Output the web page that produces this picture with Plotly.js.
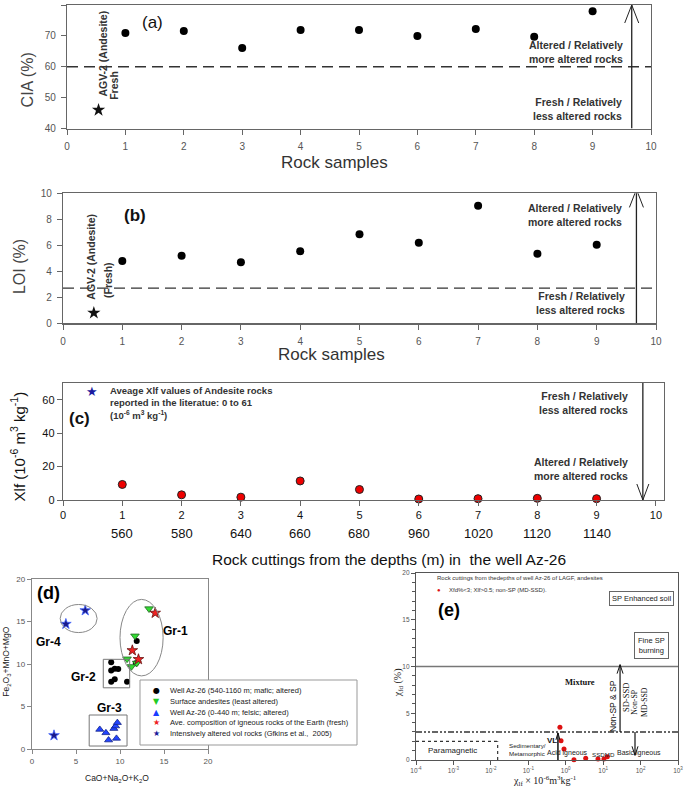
<!DOCTYPE html>
<html><head><meta charset="utf-8">
<script src="https://cdn.plot.ly/plotly-3.0.1.min.js"></script>
<style>html,body{margin:0;padding:0;background:#fff}#chart{width:685px;height:792px}</style>
</head><body><div id="chart"></div>
<script>
// ---------- data ----------
const samples = [1,2,3,4,5,6,7,8,9];
const ciaValues = [70.9,71.6,66.1,71.9,71.9,70.0,72.2,69.7,78.0];
const loiValues = [4.8,5.2,4.7,5.55,6.85,6.2,9.05,5.35,6.05];
const xlfValues = [9.3,3.1,1.7,11.4,6.3,0.6,0.8,1.0,0.8];
const depthLabels = ['560','580','640','660','680','960','1020','1120','1140'];
const agvSampleA = [0.54], agvCIA = [46];
const agvSampleB = [0.52], agvLOI = [0.8];
const ciaThreshold = 60, loiThreshold = 2.7;

// panel d
const wellDeepX = [9.0,9.0,9.4,9.8,9.4,9.0,10.8,11.9,11.8];
const wellDeepY = [10.2,9.25,9.45,9.4,8.2,7.9,7.9,12.7,10.1];
const surfX = [13.3,11.7,10.8,11.3,11.9];
const surfY = [16.5,13.3,10.6,9.7,10.1];
const wellShallowX = [7.7,8.4,8.7,9.3,9.5,9.7,9.6];
const wellShallowY = [2.3,1.9,1.05,2.4,2.7,3.1,1.25];
const earthX = [14.0,11.4,12.1];
const earthY = [16.0,11.6,10.55];
const alteredX = [6.05,3.85,2.5];
const alteredY = [16.3,14.7,1.6];
const legendD = [
  ['●','#000','Well Az-26 (540-1160 m; mafic; altered)'],
  ['▼','#22cc22','Surface andesites (least altered)'],
  ['▲','#1a3cff','Well Az-26 (0-440 m; felsic; altered)'],
  ['★','#ee2222','Ave. composition of igneous rocks of the Earth (fresh)'],
  ['★','#1a1a99','Intensively altered vol rocks (Gfkins et al.,  2005)']
];

// panel e
const chiLf = [0.70,0.75,0.90,1.66,3.42,7.28,10.5,12.9];
const chiFd = [3.5,2.06,1.18,0.02,0.18,0.1,0.1,0.35];
const eTickVals = [1e-4,1e-3,1e-2,1e-1,1e0,1e1,1e2,1e3];
const eTickText = ['10<sup>-4</sup>','10<sup>-3</sup>','10<sup>-2</sup>','10<sup>-1</sup>','10<sup>0</sup>','10<sup>1</sup>','10<sup>2</sup>','10<sup>3</sup>'];

// ---------- helpers ----------
const W = 685, H = 792;
const px = x => x / W, py = y => 1 - y / H;
const SANS = 'Liberation Sans, Arial, sans-serif';
const SERIF = 'Liberation Serif, Times New Roman, serif';

function ann(text, x, y, font, o) {
  return Object.assign({text, x: px(x), y: py(y), xref: 'paper', yref: 'paper', showarrow: false,
    xanchor: 'center', yanchor: 'middle', font: Object.assign({family: SANS, size: 10, color: '#222'}, font || {})}, o || {});
}
function axisBase(o) {
  return Object.assign({showline: true, mirror: true, linecolor: '#666', linewidth: 1.2, ticks: 'outside',
    ticklen: 5, tickcolor: '#666', showgrid: false, zeroline: false, fixedrange: true,
    tickfont: {family: SANS, size: 10, color: '#555'}}, o);
}
function head(xref, yref, x, y, dir, w, h, color) {
  const s = dir === 'up' ? -h : h;
  return {type: 'path', xref, yref, xsizemode: 'pixel', ysizemode: 'pixel', xanchor: x, yanchor: y,
    path: `M${-w},${s}L0,0L${w},${s}`, line: {color: color || '#222', width: 1}};
}
function vline(xref, yref, x, y0, y1, color, width) {
  return {type: 'line', xref, yref, x0: x, x1: x, y0, y1, line: {color: color || '#222', width: width || 1.3}};
}

// ---------- traces ----------
const traces = [
  {x: samples, y: ciaValues, xaxis: 'x', yaxis: 'y', mode: 'markers', marker: {color: '#000', size: 8}, cliponaxis: false},
  {x: agvSampleA, y: agvCIA, xaxis: 'x', yaxis: 'y', mode: 'markers', marker: {color: '#111', size: 10, symbol: 'star'}, cliponaxis: false},
  {x: samples, y: loiValues, xaxis: 'x2', yaxis: 'y2', mode: 'markers', marker: {color: '#000', size: 8}, cliponaxis: false},
  {x: agvSampleB, y: agvLOI, xaxis: 'x2', yaxis: 'y2', mode: 'markers', marker: {color: '#111', size: 10, symbol: 'star'}, cliponaxis: false},
  {x: samples, y: xlfValues, xaxis: 'x3', yaxis: 'y3', mode: 'markers', marker: {color: '#ee0000', size: 8, line: {color: '#222', width: 1}}, cliponaxis: false},
  {x: wellDeepX, y: wellDeepY, xaxis: 'x4', yaxis: 'y4', mode: 'markers', marker: {color: '#000', size: 6}, cliponaxis: false},
  {x: surfX, y: surfY, xaxis: 'x4', yaxis: 'y4', mode: 'markers', marker: {color: '#33dd33', size: 7.5, symbol: 'triangle-down', line: {color: '#226622', width: 0.8}}, cliponaxis: false},
  {x: wellShallowX, y: wellShallowY, xaxis: 'x4', yaxis: 'y4', mode: 'markers', marker: {color: '#2244ff', size: 7, symbol: 'triangle-up', line: {color: '#112288', width: 0.8}}, cliponaxis: false},
  {x: earthX, y: earthY, xaxis: 'x4', yaxis: 'y4', mode: 'markers', marker: {color: '#ee2222', size: 8, symbol: 'star', line: {color: '#661111', width: 0.8}}, cliponaxis: false},
  {x: alteredX, y: alteredY, xaxis: 'x4', yaxis: 'y4', mode: 'markers', marker: {color: '#1a1a8a', size: 8, symbol: 'star', line: {color: '#4466ff', width: 0.8}}, cliponaxis: false},
  {x: chiLf, y: chiFd, xaxis: 'x5', yaxis: 'y5', mode: 'markers', marker: {color: '#dd1111', size: 5}, cliponaxis: false}
];
traces.forEach(t => { t.showlegend = false; t.hoverinfo = 'skip'; });

// ---------- shapes ----------
const shapes = [
  {type: 'line', xref: 'x', yref: 'y', x0: 0, x1: 10, y0: ciaThreshold, y1: ciaThreshold, line: {color: '#333', width: 1.3, dash: '11px,6px'}},
  vline('x', 'y', 9.67, 40, 80), head('x', 'y', 9.67, 80, 'up', 7, 18),
  {type: 'line', xref: 'x2', yref: 'y2', x0: 0, x1: 10, y0: loiThreshold, y1: loiThreshold, line: {color: '#333', width: 1.3, dash: '11px,6px'}},
  vline('x2', 'y2', 9.67, 0, 10.3), head('x2', 'y2', 9.67, 10.3, 'up', 7, 18),
  vline('x3', 'y3', 9.78, 0, 70), head('x3', 'y3', 9.78, 0, 'down', 6, 16),
  // panel d groups
  {type: 'circle', xref: 'x4', yref: 'y4', x0: 3.2, x1: 7.4, y0: 13.7, y1: 17.0, line: {color: '#888', width: 1}},
  {type: 'circle', xref: 'x4', yref: 'y4', x0: 10.0, x1: 14.9, y0: 8.6, y1: 17.6, line: {color: '#888', width: 1}},
  {type: 'rect', xref: 'x4', yref: 'y4', x0: 8.1, x1: 11.1, y0: 7.2, y1: 10.55, line: {color: '#777', width: 1}},
  {type: 'rect', xref: 'x4', yref: 'y4', x0: 6.5, x1: 10.8, y0: 0.35, y1: 4.0, line: {color: '#777', width: 1}},
  {type: 'rect', xref: 'paper', yref: 'paper', x0: px(140), x1: px(357), y0: py(745), y1: py(680), line: {color: '#999', width: 1}, fillcolor: 'rgba(255,255,255,1)'},
  // panel e
  {type: 'line', xref: 'x5', yref: 'y5', x0: 1e-4, x1: 1e3, y0: 10, y1: 10, line: {color: '#777', width: 1.5}},
  {type: 'line', xref: 'x5', yref: 'y5', x0: 1e-4, x1: 1e3, y0: 3, y1: 3, line: {color: '#333', width: 1.5, dash: '6px,2px,2px,2px,2px,2px'}},
  {type: 'line', xref: 'x5', yref: 'y5', x0: 1e-4, x1: 0.0152, y0: 2, y1: 2, line: {color: '#333', width: 1.2, dash: 'dot'}},
  {type: 'line', xref: 'x5', yref: 'y5', x0: 0.0152, x1: 0.0152, y0: 0, y1: 2, line: {color: '#333', width: 1.2, dash: 'dot'}},
  vline('x5', 'y5', 0.62, 0, 2.9, '#111', 1.5), head('x5', 'y5', 0.62, 2.9, 'up', 2, 7, '#111'),
  vline('x5', 'y5', 28.3, 3, 10.2, '#111', 1.2), head('x5', 'y5', 28.3, 10.2, 'up', 3, 9, '#111'),
  vline('x5', 'y5', 71, 3, 0.5, '#111', 1.2), head('x5', 'y5', 71, 0.5, 'down', 3, 9, '#111')
];

// ---------- annotations ----------
const annotations = [
  // panel a
  ann('(a)', 152, 22.7, {size: 17, color: '#111'}),
  ann('AGV-2 (Andesite)', 103.2, 53.4, {size: 10.5, color: '#333', weight: 'bold'}, {textangle: -90}),
  ann('Fresh', 113.8, 85, {size: 10.5, color: '#333', weight: 'bold'}, {textangle: -90}),
  ann('Altered / Relatively<br>more altered rocks', 625, 52, {size: 10.5, color: '#333', weight: 'bold'}, {xanchor: 'right', align: 'right'}),
  ann('Fresh / Relatively<br>less altered rocks', 624, 108.7, {size: 10.5, color: '#333', weight: 'bold'}, {xanchor: 'right', align: 'right'}),
  ann('CIA (%)', 28.4, 80, {size: 16, color: '#444'}, {textangle: -90}),
  ann('Rock samples', 334, 162, {size: 17, color: '#333'}),
  // panel b
  ann('(b)', 135.4, 216, {size: 17, color: '#111', weight: 'bold'}),
  ann('AGV-2 (Andesite)', 91, 256.7, {size: 10.5, color: '#333', weight: 'bold'}, {textangle: -90}),
  ann('(Fresh)', 108, 280, {size: 10.5, color: '#333', weight: 'bold'}, {textangle: -90}),
  ann('Altered / Relatively<br>more altered rocks', 624, 214.8, {size: 10.5, color: '#333', weight: 'bold'}, {xanchor: 'right', align: 'right'}),
  ann('Fresh / Relatively<br>less altered rocks', 627.4, 302.8, {size: 10.5, color: '#333', weight: 'bold'}, {xanchor: 'right', align: 'right'}),
  ann('LOI (%)', 19.6, 266.5, {size: 16, color: '#444'}, {textangle: -90}),
  ann('Rock samples', 331, 354, {size: 17, color: '#333'}),
  // panel c
  ann('(c)', 79.3, 418, {size: 17, color: '#111', weight: 'bold'}),
  ann('★', 91.6, 391, {size: 13, color: '#1a1aa0'}),
  ann('Aveage Xlf values of Andesite rocks<br>reported in the literatue: 0 to 61<br>(10<sup>-6</sup> m<sup>3</sup> kg<sup>-1</sup>)', 108, 402.7, {size: 9.5, color: '#333', weight: 'bold'}, {xanchor: 'left', align: 'left'}),
  ann('Fresh / Relatively<br>less altered rocks', 630.4, 403, {size: 10.5, color: '#333', weight: 'bold'}, {xanchor: 'right', align: 'right'}),
  ann('Altered / Relatively<br>more altered rocks', 630.4, 468.8, {size: 10.5, color: '#333', weight: 'bold'}, {xanchor: 'right', align: 'right'}),
  ann('Xlf (10<sup>-6</sup> m<sup>3</sup> kg<sup>-1</sup>)', 17.4, 446, {size: 15, color: '#111'}, {textangle: -90}),
  ann('Rock cuttings from the depths (m) in \u00a0the well Az-26', 388.5, 559, {size: 15.5, color: '#111'}),
  // panel d
  ann('(d)', 48.3, 593.3, {size: 18, color: '#000', weight: 'bold'}),
  ann('Gr-4', 48.3, 642, {size: 12, color: '#000', weight: 'bold'}),
  ann('Gr-1', 175, 630.7, {size: 12, color: '#000', weight: 'bold'}),
  ann('Gr-2', 83.3, 676.7, {size: 12, color: '#000', weight: 'bold'}),
  ann('Gr-3', 109.3, 708.3, {size: 12, color: '#000', weight: 'bold'}),
  ann('Fe<sub>2</sub>O<sub>3</sub>+MnO+MgO', 7, 661.7, {size: 8.5, color: '#222'}, {textangle: -90}),
  ann('CaO+Na<sub>2</sub>O+K<sub>2</sub>O', 117, 778, {size: 8.5, color: '#222'}),
  // panel e
  ann('Rock cuttings from thedepths of well Az-26 of LAGF, andesites', 435, 578.3, {size: 6, color: '#333'}, {xanchor: 'left'}),
  ann('●', 439.3, 590, {size: 6, color: '#dd1111'}),
  ann('Xfd%&lt;3; Xlf&gt;0.5; non-SP (MD-SSD).', 446.7, 590, {size: 6, color: '#333'}, {xanchor: 'left'}),
  ann('SP Enhanced soil', 641.7, 598.7, {size: 7.5, color: '#222'}, {bordercolor: '#666', borderwidth: 1, borderpad: 2}),
  ann('(e)', 449, 610, {size: 18, color: '#000', weight: 'bold'}),
  ann('Fine SP<br>burning', 651.3, 645, {size: 7.5, color: '#222'}, {bordercolor: '#666', borderwidth: 1, borderpad: 3}),
  ann('Mixture', 580, 681.7, {size: 8.5, color: '#111', family: SERIF, weight: 'bold'}),
  ann('Non-SP & SP', 612.5, 706.5, {size: 8.5, color: '#111'}, {textangle: -90}),
  ann('SD-SSD', 625.5, 697.5, {size: 8.5, color: '#111', family: SERIF}, {textangle: -90}),
  ann('Non-SP<br>MD-SSD', 639, 702, {size: 7.8, color: '#111', family: SERIF}, {textangle: -90}),
  ann('VL', 551.5, 740.7, {size: 8, color: '#111', weight: 'bold'}),
  ann('Paramagnetic', 426, 750.7, {size: 8, color: '#222'}, {xanchor: 'left'}),
  ann('Sedimentary/<br>Metamorphic', 507, 749.7, {size: 6.2, color: '#222'}, {xanchor: 'left', align: 'left'}),
  ann('Acid igneous', 567, 753.3, {size: 7, color: '#222'}),
  ann('SSDMD', 603.8, 754.3, {size: 6.2, color: '#222'}),
  ann('Basic igneous', 638.5, 753.3, {size: 7, color: '#222'}),
  ann('χ<sub>fd</sub> (%)', 398.3, 683, {size: 10, color: '#222', family: SERIF}, {textangle: -90}),
  ann('χ<sub>lf</sub> × 10<sup>-6</sup>m<sup>3</sup>kg<sup>-1</sup>', 545, 781, {size: 10, color: '#222', family: SERIF})
];
// depth labels under panel c ticks, positioned through the x3 axis
samples.forEach((s, i) => annotations.push({text: depthLabels[i], x: s, xref: 'x3', y: py(533), yref: 'paper',
  showarrow: false, xanchor: 'center', yanchor: 'middle', font: {family: SANS, size: 13, color: '#111'}}));
// panel d legend
legendD.forEach((r, i) => {
  const yy = 690.7 + i * 10.65;
  annotations.push(ann(r[0], 156.7, yy, {size: 8, color: r[1], family: 'DejaVu Sans'}));
  annotations.push(ann(r[2], 167.5, yy, {size: 7.5, color: '#222'}, {xanchor: 'left'}));
});

const layout = {
  width: W, height: H, margin: {l: 0, r: 0, t: 0, b: 0}, paper_bgcolor: '#fff', plot_bgcolor: 'rgba(0,0,0,0)',
  showlegend: false, font: {family: SANS},
  xaxis: axisBase({domain: [px(67), px(651)], range: [0, 10], dtick: 1, tick0: 0, anchor: 'y', ticklabelstandoff: 3}),
  yaxis: axisBase({domain: [py(128.5), py(5)], range: [40, 80], dtick: 10, anchor: 'x', ticklabelstandoff: 3}),
  xaxis2: axisBase({domain: [px(63), px(656)], range: [0, 10], dtick: 1, tick0: 0, anchor: 'y2', ticklabelstandoff: 3}),
  yaxis2: axisBase({domain: [py(323.3), py(193.3)], range: [0, 10], dtick: 2, anchor: 'x2', ticklabelstandoff: 3}),
  xaxis3: axisBase({domain: [px(63), px(663.6)], range: [0, 10.13], tickvals: [0,1,2,3,4,5,6,7,8,9,10], anchor: 'y3',
    tickfont: {family: SANS, size: 11, color: '#111'}}),
  yaxis3: axisBase({domain: [py(500), py(383)], range: [0, 70], tickvals: [0, 20, 40, 60], anchor: 'x3',
    tickfont: {family: SANS, size: 11, color: '#111'}}),
  xaxis4: axisBase({domain: [px(32), px(208)], range: [0, 20], dtick: 5, anchor: 'y4', ticklen: 4,
    tickfont: {family: SANS, size: 8, color: '#555'}, linecolor: '#888', tickcolor: '#888'}),
  yaxis4: axisBase({domain: [py(749), py(579)], range: [0, 20], dtick: 5, anchor: 'x4', ticklen: 4,
    tickfont: {family: SANS, size: 8, color: '#555'}, linecolor: '#888', tickcolor: '#888'}),
  xaxis5: axisBase({type: 'log', domain: [px(416), px(678)], range: [-4, 3], tickvals: eTickVals, ticktext: eTickText,
    anchor: 'y5', ticklen: 4, tickfont: {family: SANS, size: 6.5, color: '#555'}, linecolor: '#555', tickcolor: '#555'}),
  yaxis5: axisBase({domain: [py(760), py(573)], range: [0, 20], tickvals: [0, 5, 10, 15, 20], anchor: 'x5', ticklen: 4,
    tickfont: {family: SANS, size: 6.5, color: '#555'}, linecolor: '#555', tickcolor: '#555',
    minor: {dtick: 1, ticks: 'outside', ticklen: 2.5, tickcolor: '#555'}}),
  shapes, annotations
};

Plotly.newPlot('chart', traces, layout, {displayModeBar: false, staticPlot: true});
</script></body></html>
